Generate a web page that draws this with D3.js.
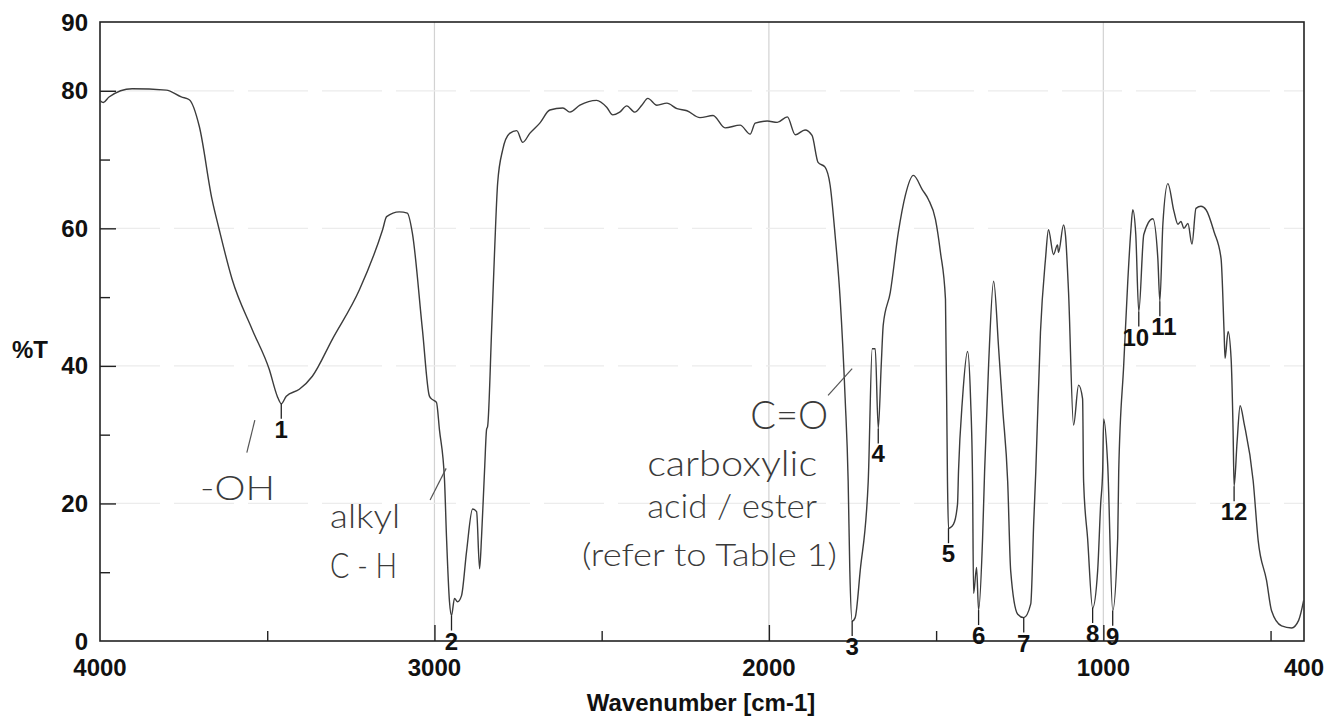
<!DOCTYPE html>
<html>
<head>
<meta charset="utf-8">
<script src="https://cdn.jsdelivr.net/npm/d3@7"></script>
<style>
  body { margin: 0; background: #fff; }
  svg { display: block; }
  .num { font-family: "Liberation Sans", Arial, sans-serif; font-size: 24px; font-weight: bold; fill: #111; }
  .note { font-family: Lato, "Open Sans", sans-serif; font-weight: 300; fill: #3a3a3a; }
</style>
</head>
<body>
<svg id="chart" width="1341" height="722"></svg>
<script>
// spectrum trace: wavenumber (cm-1) and %T
const wavenumber = [
  4000, 3990, 3973, 3904, 3802, 3757, 3733, 3703, 3665, 3644, 3605, 3545, 3494, 3470, 3458, 3443,
  3404, 3365, 3305, 3224, 3155, 3143, 3105, 3081, 3066, 3036, 3015, 3006, 2994, 2985, 2970, 2964,
  2955, 2949, 2940, 2931, 2919, 2904, 2886, 2874, 2865, 2859, 2850, 2844, 2841, 2829, 2820, 2811,
  2796, 2775, 2754, 2736, 2715, 2685, 2655, 2616, 2595, 2565, 2515, 2485, 2467, 2446, 2425, 2401,
  2380, 2362, 2335, 2305, 2275, 2245, 2206, 2167, 2131, 2086, 2056, 2041, 2005, 1975, 1945, 1921,
  1892, 1871, 1853, 1832, 1817, 1802, 1787, 1772, 1763, 1758, 1751, 1742, 1727, 1703, 1691, 1682,
  1673, 1664, 1658, 1637, 1613, 1592, 1568, 1541, 1523, 1502, 1487, 1472, 1466, 1463, 1448, 1436,
  1433, 1421, 1406, 1397, 1391, 1388, 1379, 1373, 1361, 1355, 1343, 1328, 1313, 1301, 1286, 1277,
  1256, 1238, 1217, 1208, 1202, 1188, 1173, 1164, 1149, 1137, 1134, 1119, 1113, 1104, 1089, 1074,
  1062, 1059, 1047, 1032, 1017, 1008, 1002, 999, 987, 972, 957, 954, 939, 927, 918, 912,
  903, 894, 879, 852, 837, 831, 822, 807, 789, 777, 768, 759, 747, 735, 723, 708,
  693, 669, 648, 639, 636, 627, 618, 612, 609, 600, 591, 579, 552, 537, 512, 497,
  467, 437, 416, 401
];
const transmittance = [
  78.6, 78.3, 79.1, 80.3, 80.1, 79.1, 78.7, 74.8, 64.2, 59.9, 52.6, 45.3, 39.5, 35.6, 34.5, 35.6,
  36.6, 38.5, 43.9, 51.1, 59.8, 61.7, 62.4, 62.2, 59.3, 45.3, 35.6, 35.1, 34.7, 30.7, 23.5, 15.2,
  5.7, 3.7, 6.2, 5.7, 6.6, 13.0, 19.2, 18.8, 10.5, 15.3, 25.0, 30.8, 31.2, 45.3, 56.9, 66.6,
  71.4, 73.8, 74.2, 72.5, 73.8, 75.3, 77.2, 77.5, 76.9, 77.9, 78.6, 77.6, 76.5, 76.9, 77.8, 76.9,
  77.9, 78.9, 77.9, 78.2, 77.4, 77.1, 76.1, 76.4, 74.6, 75.0, 73.7, 75.3, 75.6, 75.4, 76.2, 73.6,
  74.3, 73.5, 69.6, 68.9, 66.3, 59.0, 49.8, 35.3, 23.3, 10.2, 2.9, 3.4, 10.2, 23.2, 42.5, 42.5,
  30.9, 40.2, 46.0, 50.7, 59.4, 64.8, 67.7, 65.6, 64.2, 61.3, 56.5, 49.7, 23.2, 16.4, 17.0, 19.9,
  24.7, 35.3, 42.1, 35.3, 23.2, 6.9, 10.7, 4.5, 15.0, 24.7, 40.2, 52.3, 42.5, 33.8, 23.2, 10.2,
  3.9, 3.4, 5.4, 17.4, 24.6, 44.9, 55.5, 59.8, 56.2, 57.6, 56.5, 60.5, 58.9, 50.7, 31.4, 37.2,
  35.2, 23.2, 14.9, 4.8, 10.2, 19.9, 24.7, 32.3, 25.7, 4.4, 15.0, 24.7, 40.2, 52.2, 59.5, 62.7,
  59.1, 47.9, 59.1, 61.4, 55.6, 49.4, 60.6, 66.5, 62.5, 60.6, 61.0, 60.0, 60.7, 57.7, 62.9, 63.2,
  62.7, 59.5, 55.6, 45.0, 41.1, 45.0, 41.1, 30.5, 22.5, 29.0, 34.2, 31.6, 23.3, 14.6, 8.8, 4.4,
  2.2, 1.9, 3.0, 5.9
];

// numbered peaks
const peakNumbers = ["1", "2", "3", "4", "5", "6", "7", "8", "9", "10", "11", "12"];
const peakWavenumber = [3458, 2949, 1751, 1673, 1463, 1373, 1238, 1032, 972, 894, 831, 609];
const peakT = [34.5, 3.7, 2.9, 30.9, 16.4, 4.5, 3.4, 4.8, 4.4, 47.9, 49.4, 22.5];

// axes
const xTickLabels = [4000, 3000, 2000, 1000, 400];
const xMajorTicks = [3000, 2000, 1000];
const xMinorTicks = [3500, 2500, 1500, 500];
const yTickLabels = [0, 20, 40, 60, 80, 90];
const yMajorTicks = [20, 40, 60, 80];
const yMinorTicks = [10, 30, 50, 70];

// handwritten notes
const notes = ["C=O", "carboxylic", "acid / ester", "(refer to Table 1)", "-OH", "alkyl", "C - H"];

const svg = d3.select("#chart");
const x = d3.scaleLinear().domain([4000, 400]).range([100, 1304]);
const y = d3.scaleLinear().domain([0, 90]).range([641, 22]);

// faint grid from the original chart paper
svg.append("g").selectAll("line").data(xMajorTicks).join("line")
  .attr("x1", d => x(d)).attr("x2", d => x(d))
  .attr("y1", y(90)).attr("y2", y(0))
  .attr("stroke", "#d2d2d2").attr("stroke-width", 1.2);
svg.append("g").selectAll("line").data(yMajorTicks).join("line")
  .attr("x1", x(4000)).attr("x2", x(400))
  .attr("y1", d => y(d)).attr("y2", d => y(d))
  .attr("stroke", "#ececec").attr("stroke-width", 1.2)
  .attr("stroke-dasharray", "60 14");

// ticks pointing into the plot
const tickStyle = g => {
  g.select(".domain").remove();
  g.selectAll(".tick line").attr("stroke", "#222").attr("stroke-width", 1.4);
};
svg.append("g").attr("transform", `translate(0,${y(0)})`)
  .call(d3.axisTop(x).tickValues(xMajorTicks).tickSize(16).tickFormat(""))
  .call(tickStyle);
svg.append("g").attr("transform", `translate(0,${y(0)})`)
  .call(d3.axisTop(x).tickValues(xMinorTicks).tickSize(10).tickFormat(""))
  .call(tickStyle);
svg.append("g").attr("transform", `translate(${x(4000)},0)`)
  .call(d3.axisRight(y).tickValues(yMajorTicks).tickSize(16).tickFormat(""))
  .call(tickStyle);
svg.append("g").attr("transform", `translate(${x(4000)},0)`)
  .call(d3.axisRight(y).tickValues(yMinorTicks).tickSize(10).tickFormat(""))
  .call(tickStyle);

// frame
svg.append("rect")
  .attr("x", x(4000)).attr("y", y(90))
  .attr("width", x(400) - x(4000)).attr("height", y(0) - y(90))
  .attr("fill", "none").attr("stroke", "#222").attr("stroke-width", 1.6);

// tick labels
svg.append("g").selectAll("text").data(xTickLabels).join("text")
  .attr("class", "num")
  .attr("x", d => x(d)).attr("y", y(0) + 35)
  .attr("text-anchor", "middle")
  .text(d => d);
svg.append("g").selectAll("text").data(yTickLabels).join("text")
  .attr("class", "num")
  .attr("x", x(4000) - 12).attr("y", d => y(d) + 8.5)
  .attr("text-anchor", "end")
  .text(d => d);

svg.append("text").attr("class", "num")
  .attr("x", 12).attr("y", 358)
  .text("%T");
svg.append("text").attr("class", "num")
  .attr("x", (x(4000) + x(400)) / 2 - 1).attr("y", 711)
  .attr("text-anchor", "middle")
  .text("Wavenumber [cm-1]");

// spectrum
const points = wavenumber.map((w, i) => [w, transmittance[i]]);
svg.append("path")
  .datum(points)
  .attr("fill", "none")
  .attr("stroke", "#3c3c3c")
  .attr("stroke-width", 1.4)
  .attr("stroke-linejoin", "round")
  .attr("d", d3.line().x(d => x(d[0])).y(d => y(d[1])).curve(d3.curveMonotoneX));

// peak markers (10 and 11 sit on top of each other, nudge them apart a bit)
const nudge = { "10": -3, "11": 4 };
const peaks = peakNumbers.map((n, i) => ({ n, w: peakWavenumber[i], t: peakT[i] }));
const peakG = svg.append("g").selectAll("g").data(peaks).join("g");
peakG.append("line")
  .attr("x1", d => x(d.w)).attr("x2", d => x(d.w))
  .attr("y1", d => y(d.t)).attr("y2", d => y(d.t) + 15)
  .attr("stroke", "#222").attr("stroke-width", 1.3);
peakG.append("text")
  .attr("class", "num")
  .attr("x", d => x(d.w) + (nudge[d.n] || 0)).attr("y", d => y(d.t) + 34)
  .attr("text-anchor", "middle")
  .text(d => d.n);

// handwritten notes, anchored in data coordinates
const noteSpots = [
  { w: 2056, t: 30.8, size: 40, len: 78 },
  { w: 2364, t: 24.0, size: 36, len: 170 },
  { w: 2364, t: 17.9, size: 33, len: 170 },
  { w: 2559, t: 10.9, size: 32, len: 255 },
  { w: 3701, t: 20.5, size: 34, len: 75 },
  { w: 3312, t: 16.4, size: 34, len: 70 },
  { w: 3312, t: 9.1, size: 36, len: 67 }
];
svg.append("g").selectAll("text").data(notes).join("text")
  .attr("class", "note")
  .attr("x", (d, i) => x(noteSpots[i].w))
  .attr("y", (d, i) => y(noteSpots[i].t))
  .attr("font-size", (d, i) => noteSpots[i].size)
  .attr("textLength", (d, i) => noteSpots[i].len)
  .attr("lengthAdjust", "spacingAndGlyphs")
  .text(d => d);

const strokes = [
  [[3537, 32.1], [3561, 27.4]],
  [[3013, 20.5], [2965, 25.1]],
  [[1823, 35.7], [1751, 39.6]]
];
svg.append("g").selectAll("line").data(strokes).join("line")
  .attr("x1", d => x(d[0][0])).attr("y1", d => y(d[0][1]))
  .attr("x2", d => x(d[1][0])).attr("y2", d => y(d[1][1]))
  .attr("stroke", "#555").attr("stroke-width", 1.2);
</script>
</body>
</html>
